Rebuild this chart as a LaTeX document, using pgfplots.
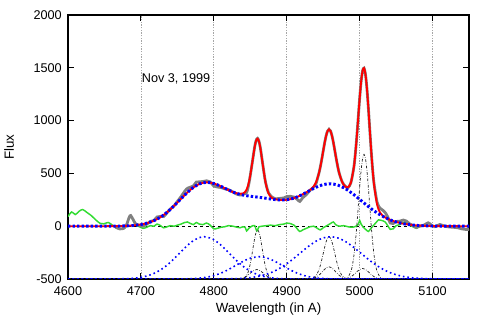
\documentclass[border=0pt]{standalone}
\usepackage{fontspec}
\setmainfont{Liberation Sans}
\usepackage{pgfplots}
\pgfplotsset{compat=1.18}
\definecolor{dgray}{RGB}{128,128,128}
\definecolor{lgreen}{RGB}{50,220,50}
\begin{document}
\begin{tikzpicture}
\begin{axis}[
  scale only axis, width=300.75pt, height=198pt,
  xmin=4600, xmax=5150, ymin=-500, ymax=2000,
  xtick={4600,4700,4800,4900,5000,5100},
  xticklabels={4600,4700,4800,4900,5000,5100},
  ytick={-500,0,500,1000,1500,2000},
  yticklabels={-500,0,500,1000,1500,2000},
  tick align=inside, major tick length=4.5pt,
  axis line style={line width=0.8pt}, tick style={line width=0.8pt, black},
  xmajorgrids, major grid style={gray!70, line width=0.5pt, dash pattern=on 1pt off 1pt},
  tick label style={font=\fontsize{9.5}{11}\selectfont},
  label style={font=\fontsize{9.5}{11}\selectfont},
  xticklabel style={anchor=base, yshift=-12.75pt},
  yticklabel style={anchor=east, inner sep=0pt, xshift=-4.5pt},
  xlabel={Wavelength (in A)}, ylabel={Flux},
  every axis x label/.style={at={(axis description cs:0.5,0)}, anchor=base, yshift=-25.5pt},
  every axis y label/.style={at={(axis description cs:-0.1471,0.5)}, rotate=90, anchor=center},
]
\coordinate (sw) at (rel axis cs:0,0);
\coordinate (ne) at (rel axis cs:1,1);
% zero line
\addplot[black, line width=0.6pt, dash pattern=on 2.5pt off 2pt] coordinates {(4600,0) (5150,0)};
% residual
\addplot[lgreen, line width=1.1pt, smooth] coordinates {
(4600,90) (4605,135) (4610,110) (4615,140) (4620,158) (4626,130) (4632,100) (4638,60) (4644,27) (4649,22) (4655,35) (4660,15) (4665,-10) (4671,-28) (4676,-25) (4680,5) (4684,80) (4686,95) (4689,60) (4693,10) (4698,-5) (4703,-20) (4708,-10) (4713,5) (4718,0) (4722,20) (4727,5) (4731,-15) (4736,-5) (4740,5) (4746,0) (4750,10) (4755,20) (4760,35) (4764,40) (4768,25) (4772,15) (4776,35) (4780,20) (4785,15) (4790,30) (4795,10) (4800,-25) (4805,-20) (4810,-10) (4815,-5) (4820,5) (4826,0) (4832,-10) (4836,-15) (4840,-5) (4843,-10) (4845,-45) (4848,-20) (4852,0) (4856,5) (4859,-45) (4862,-5) (4866,0) (4872,5) (4878,10) (4884,5) (4890,15) (4896,20) (4900,30) (4905,25) (4910,10) (4915,-30) (4918,-50) (4922,-35) (4927,-20) (4932,-5) (4937,0) (4942,-20) (4946,-35) (4950,-15) (4955,5) (4960,25) (4964,40) (4967,15) (4972,0) (4978,5) (4984,-5) (4990,-10) (4995,0) (4998,15) (5000,55) (5002,20) (5005,-10) (5009,-35) (5012,-50) (5015,-25) (5018,0) (5022,30) (5026,60) (5030,55) (5035,40) (5039,0) (5042,-30) (5046,-25) (5050,5) (5055,15) (5060,35) (5064,30) (5068,10) (5073,-5) (5078,-20) (5082,-5) (5088,5) (5094,30) (5098,10) (5103,-5) (5110,15) (5115,5) (5120,-5) (5128,-10) (5135,-15) (5140,-25) (5145,-30) (5150,-30)};
% narrow components
\addplot[black!85, line width=0.55pt, dash pattern=on 2pt off 1.2pt on 0.4pt off 1.2pt, smooth] coordinates {
(4600,-500) (4835,-500) (4840,-495.8) (4844,-477.2) (4847,-436.4) (4850,-356.9) (4852,-281.5) (4854,-196.2) (4856,-115.6) (4858,-57.3) (4860,-36) (4862,-57.3) (4864,-115.6) (4866,-196.2) (4868,-281.5) (4870,-356.9) (4873,-436.4) (4876,-477.2) (4880,-495.8) (4885,-500) (5150,-500)};
\addplot[black!85, line width=0.55pt, dash pattern=on 2pt off 1.2pt on 0.4pt off 1.2pt, smooth] coordinates {
(4600,-500) (4825,-500) (4830,-499.4) (4835,-497.6) (4840,-490.3) (4845,-473.2) (4850,-445.4) (4854,-424.2) (4859,-410) (4864,-422.9) (4868,-445.4) (4873,-473.2) (4878,-490.3) (4883,-497.4) (4888,-499.4) (4895,-500) (5150,-500)};
\addplot[black!85, line width=0.55pt, dash pattern=on 2pt off 1.2pt on 0.4pt off 1.2pt, smooth] coordinates {
(4600,-500) (4930,-500) (4936,-491.7) (4940,-470.0) (4944,-416.6) (4946,-373.6) (4948,-320.3) (4950,-260.3) (4952,-200.1) (4954,-148.0) (4956,-112.6) (4958,-100) (4960,-112.6) (4962,-148.0) (4964,-200.1) (4966,-260.3) (4968,-320.3) (4970,-373.6) (4972,-416.6) (4976,-470.0) (4980,-491.7) (4986,-499.2) (4990,-500) (5150,-500)};
\addplot[black!85, line width=0.55pt, dash pattern=on 2pt off 1.2pt on 0.4pt off 1.2pt, smooth] coordinates {
(4600,-500) (4926,-500) (4932,-498.2) (4936,-494.2) (4940,-484.4) (4944,-465.7) (4948,-438.0) (4952,-407.9) (4955,-391.2) (4958,-385) (4961,-391.2) (4964,-407.9) (4968,-438.0) (4972,-465.7) (4976,-484.4) (4980,-494.2) (4984,-498.2) (4990,-500) (5150,-500)};
\addplot[black!85, line width=0.55pt, dash pattern=on 2pt off 1.2pt on 0.4pt off 1.2pt, smooth] coordinates {
(4600,-500) (4978,-500) (4980,-496.7) (4984,-482.5) (4988,-429.4) (4990,-372.7) (4992,-285.4) (4994,-162.6) (4996,-5.5) (4998,176.4) (5000,362.8) (5002,526.7) (5004,639.6) (5006,680) (5008,639.6) (5010,526.7) (5012,362.8) (5014,176.4) (5016,-5.5) (5018,-162.6) (5020,-285.4) (5022,-372.7) (5024,-429.4) (5028,-482.5) (5032,-496.7) (5036,-499.5) (5040,-500) (5150,-500)};
\addplot[black!85, line width=0.55pt, dash pattern=on 2pt off 1.2pt on 0.4pt off 1.2pt, smooth] coordinates {
(4600,-500) (4974,-500) (4978,-498.5) (4984,-491.5) (4988,-479.4) (4992,-458.9) (4996,-432.6) (5000,-409.4) (5004,-400) (5008,-409.4) (5012,-432.6) (5016,-458.9) (5020,-479.4) (5024,-491.5) (5030,-498.5) (5036,-500) (5150,-500)};
% broad components
\addplot[blue, line width=1.2pt, dash pattern=on 1.2pt off 2.2pt, smooth] coordinates {
(4600,-500) (4650,-500) (4660,-499.6) (4680,-496.9) (4690,-492.7) (4700,-484.0) (4710,-467.9) (4720,-440.8) (4730,-399.6) (4740,-343.8) (4750,-276.6) (4760,-206.7) (4770,-146.3) (4780,-108.2) (4787,-100) (4790,-101.5) (4800,-127.8) (4810,-180.6) (4820,-248.4) (4830,-317.9) (4840,-378.9) (4850,-426.1) (4860,-458.6) (4870,-478.7) (4880,-489.9) (4890,-495.6) (4900,-498.3) (4910,-499.4) (4930,-500) (5150,-500)};
\addplot[blue, line width=1.2pt, dash pattern=on 1.2pt off 2.2pt, smooth] coordinates {
(4600,-500) (4730,-500) (4750,-499.5) (4760,-498.7) (4770,-496.6) (4780,-492.1) (4790,-483.2) (4800,-467.7) (4810,-443.6) (4820,-410.8) (4830,-372.0) (4840,-333.4) (4850,-303.3) (4862,-289) (4870,-295.5) (4880,-319.9) (4890,-356.1) (4900,-395.7) (4910,-431.5) (4920,-459.2) (4930,-477.9) (4940,-489.2) (4950,-495.2) (4960,-498.1) (4970,-499.3) (4990,-500) (5150,-500)};
\addplot[blue, line width=1.2pt, dash pattern=on 1.2pt off 2.2pt, smooth] coordinates {
(4600,-500) (4790,-500) (4810,-499.3) (4820,-498.5) (4830,-496.7) (4840,-493.2) (4850,-487.0) (4860,-476.5) (4870,-459.7) (4880,-434.8) (4890,-400.2) (4900,-355.8) (4910,-303.1) (4920,-245.8) (4930,-190.1) (4940,-142.9) (4950,-111.2) (4960,-100) (4970,-111.2) (4980,-142.9) (4990,-190.1) (5000,-245.8) (5010,-303.1) (5020,-355.8) (5030,-400.2) (5040,-434.8) (5050,-459.7) (5060,-476.5) (5070,-487.0) (5080,-493.2) (5090,-496.7) (5100,-498.5) (5110,-499.3) (5120,-499.7) (5150,-500)};
% observed spectrum
\addplot[dgray, line width=2.1pt, smooth] coordinates {
(4665,-9) (4671,-26) (4676,-22) (4680,8) (4684,85) (4686,101) (4689,67) (4693,20) (4698,9) (4703,0) (4708,19) (4713,45) (4718,54) (4722,87) (4727,93) (4731,91) (4736,129) (4740,161) (4746,197) (4750,234) (4755,279) (4760,330) (4764,360) (4768,370) (4772,381) (4776,418) (4780,420) (4785,423) (4790,430) (4795,420) (4800,380) (4805,371) (4810,366) (4815,354) (4820,347) (4826,325) (4832,302) (4836,295) (4840,303) (4845,320) (4848,400) (4850,480) (4853,614) (4856,750) (4858,812) (4860,832) (4862,803) (4864,735) (4867,592) (4870,452) (4872,385) (4875,316) (4880,275) (4884,260) (4890,263) (4896,268) (4900,280) (4905,283) (4910,276) (4915,250) (4918,235) (4922,270) (4927,300) (4932,340) (4937,370) (4940,400) (4944,498) (4946,559) (4948,631) (4950,711) (4952,789) (4954,856) (4956,901) (4958,918) (4960,903) (4962,858) (4964,792) (4966,714) (4968,635) (4970,563) (4972,502) (4976,420) (4980,380) (4984,365) (4988,412) (4992,555) (4994,680) (4996,839) (4998,1022) (5000,1208) (5002,1367) (5004,1471) (5006,1497) (5008,1438) (5010,1304) (5012,1116) (5014,905) (5016,700) (5018,521) (5020,390) (5024,225) (5028,170) (5032,150) (5036,120) (5040,65) (5042,30) (5046,25) (5050,45) (5055,47) (5060,58) (5064,49) (5068,25) (5073,6) (5078,-12) (5082,1) (5088,9) (5094,32) (5098,12) (5103,-4) (5110,16) (5115,5) (5120,-5) (5128,-10) (5135,-15) (5140,-25) (5145,-30) (5150,-30)};
% total fit
\addplot[red, line width=1.4pt, smooth] coordinates {
(4600,0) (4640,0) (4660,0.4) (4680,3.1) (4690,7.3) (4700,16.0) (4710,32.1) (4720,59.2) (4730,100.4) (4740,156.3) (4750,223.9) (4760,294.6) (4770,357.1) (4780,399.7) (4790,415.3) (4800,404.8) (4810,376.5) (4820,342.3) (4830,313.9) (4840,308.4) (4845,347.9) (4848,413.1) (4850,481.3) (4853,613.9) (4856,748.2) (4858,809.3) (4860,828.9) (4862,801.6) (4864,733.6) (4867,590.5) (4870,451.8) (4872,381.0) (4875,312.1) (4880,265.5) (4890,248.3) (4900,250.2) (4910,266.0) (4920,295.2) (4930,333.7) (4936,368.4) (4940,413.5) (4944,497.6) (4946,558.8) (4948,631.4) (4950,710.8) (4952,788.8) (4954,855.5) (4956,900.6) (4958,916.8) (4960,901.5) (4962,857.3) (4964,791.5) (4966,714.2) (4968,635.4) (4970,563.2) (4972,502.3) (4976,419.3) (4980,377.6) (4984,369.3) (4988,412.2) (4992,555.0) (4994,679.5) (4996,838.9) (4998,1022.1) (5000,1207.6) (5002,1366.9) (5004,1470.7) (5006,1497.2) (5008,1438.4) (5010,1303.7) (5012,1116.1) (5014,905.3) (5016,700.0) (5018,521.4) (5020,379.4) (5024,204.4) (5028,128.2) (5032,96.1) (5040,65.2) (5050,40.3) (5060,23.5) (5070,13.0) (5080,6.8) (5090,3.3) (5100,1.5) (5110,0.7) (5120,0.3) (5150,0)};
% sum of broad components
\addplot[blue, line width=2.2pt, dash pattern=on 1.8pt off 1.6pt, smooth] coordinates {
(4600,0) (4640,0) (4660,0.4) (4680,3.1) (4690,7.3) (4700,16.0) (4710,32.1) (4720,59.2) (4730,100.4) (4740,156.3) (4750,223.9) (4760,294.6) (4770,357.1) (4780,399.7) (4790,415.3) (4800,404.8) (4810,376.5) (4820,342.3) (4830,313.4) (4840,294.5) (4850,283.6) (4860,275.5) (4870,266.1) (4880,255.4) (4890,248.1) (4900,250.2) (4910,266.0) (4920,295.2) (4930,332.0) (4940,367.9) (4950,393.6) (4960,401.9) (4970,389.5) (4980,357.3) (4990,309.9) (5000,254.2) (5010,196.9) (5020,144.2) (5030,99.8) (5040,65.2) (5050,40.3) (5060,23.5) (5070,13.0) (5080,6.8) (5090,3.3) (5100,1.5) (5110,0.7) (5120,0.3) (5150,0)};
\node[anchor=west, inner sep=0pt, font=\fontsize{9.5}{11}\selectfont] at (axis cs:4701,1394) {Nov 3, 1999};
\end{axis}
\pgfresetboundingbox
\path[use as bounding box] ([xshift=-51pt,yshift=-30pt]sw) rectangle ([xshift=16.5pt,yshift=11.25pt]ne);
\end{tikzpicture}
\end{document}
